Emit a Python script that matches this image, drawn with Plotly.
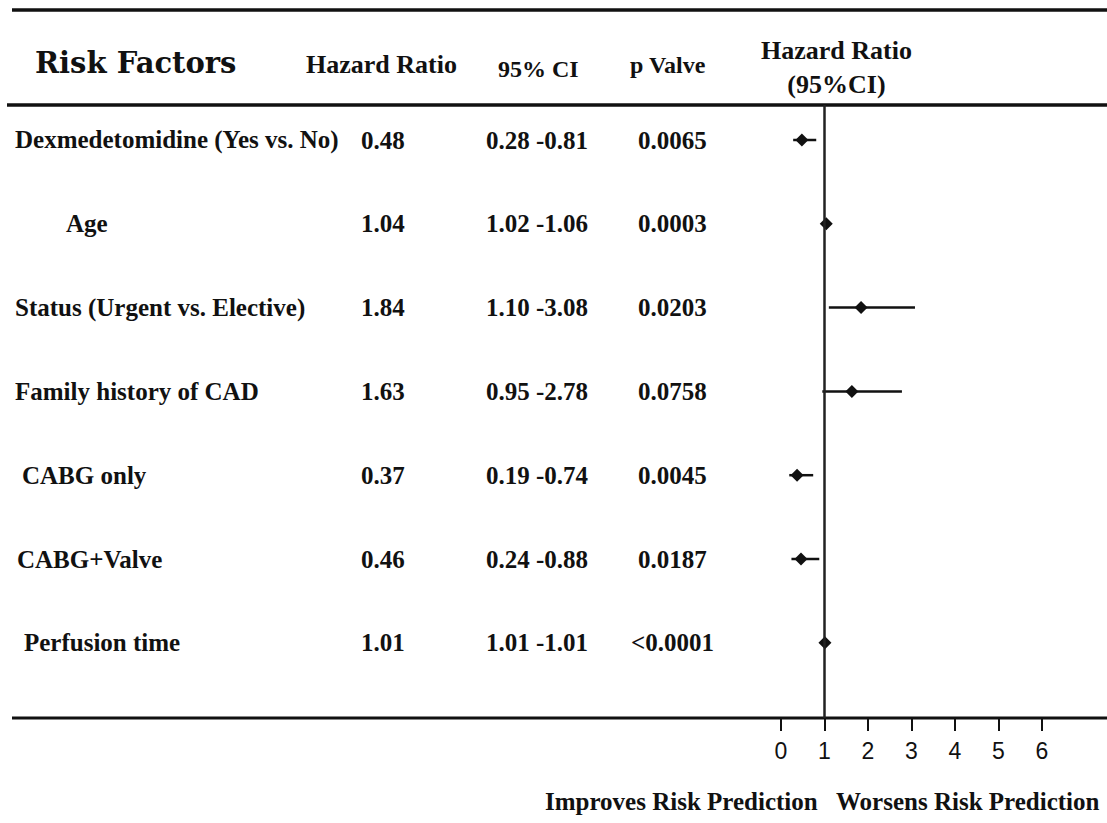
import plotly.graph_objects as go

# ---------------- data ----------------
factors = [
    "Dexmedetomidine (Yes vs. No)",
    "Age",
    "Status (Urgent vs. Elective)",
    "Family history of CAD",
    "CABG only",
    "CABG+Valve",
    "Perfusion time",
]
hazard_ratio = [0.48, 1.04, 1.84, 1.63, 0.37, 0.46, 1.01]
ci_low = [0.28, 1.02, 1.10, 0.95, 0.19, 0.24, 1.01]
ci_high = [0.81, 1.06, 3.08, 2.78, 0.74, 0.88, 1.01]
p_values = ["0.0065", "0.0003", "0.0203", "0.0758", "0.0045", "0.0187", "<0.0001"]
x_ticks = [0, 1, 2, 3, 4, 5, 6]
reference_value = 1
col_headers = ["Hazard Ratio", "95% CI", "p Valve"]
plot_header = "Hazard Ratio<br>(95%CI)"
table_title = "Risk Factors"
footer_left = "Improves Risk Prediction"
footer_right = "Worsens Risk Prediction"

# ---------------- layout constants ----------------
W, H = 1107, 823
ROW0_PX, ROW_STEP = 140.0, 83.8
X0_PX, X_UNIT = 781.0, 43.5
TOP_LINE_PX, HEAD_LINE_PX, BOTTOM_LINE_PX = 10, 105, 718
LABEL_X_PX = [13, 64, 13, 13, 20, 15, 22]
HR_X_PX, CI_X_PX, P_X_PX = 383, 537, 672
SERIF = "Liberation Serif, Times New Roman, serif"
SANS = "Liberation Sans, Arial, sans-serif"

rows = list(range(len(factors)))
y_top = -ROW0_PX / ROW_STEP
y_bot = (H - ROW0_PX) / ROW_STEP
x_left = -X0_PX / X_UNIT
x_right = (W - X0_PX) / X_UNIT


def py(px):
    return (H - px) / H


def pxx(px):
    return px / W


fig = go.Figure()

fig.add_trace(
    go.Scatter(
        x=hazard_ratio,
        y=rows,
        mode="markers",
        marker=dict(symbol="diamond", size=10, color="#111111"),
        error_x=dict(
            type="data",
            symmetric=False,
            array=[h - hr for h, hr in zip(ci_high, hazard_ratio)],
            arrayminus=[hr - l for hr, l in zip(hazard_ratio, ci_low)],
            width=0,
            thickness=2.5,
            color="#111111",
        ),
        hoverinfo="skip",
        showlegend=False,
    )
)

shapes = [
    dict(type="line", xref="paper", yref="paper", x0=pxx(12), x1=1,
         y0=py(TOP_LINE_PX), y1=py(TOP_LINE_PX), line=dict(color="#111111", width=3.5)),
    dict(type="line", xref="paper", yref="paper", x0=pxx(7), x1=1,
         y0=py(HEAD_LINE_PX), y1=py(HEAD_LINE_PX), line=dict(color="#111111", width=3.5)),
    dict(type="line", xref="paper", yref="paper", x0=pxx(12), x1=1,
         y0=py(BOTTOM_LINE_PX), y1=py(BOTTOM_LINE_PX), line=dict(color="#111111", width=3)),
    dict(type="line", xref="x", yref="paper", x0=reference_value, x1=reference_value,
         y0=py(BOTTOM_LINE_PX), y1=py(HEAD_LINE_PX), line=dict(color="#222222", width=2.5)),
]

annotations = []


def txt(text, x, y, size, yref="paper", xanchor="center", family=SERIF):
    annotations.append(
        dict(text=text, x=x, y=y, xref="paper", yref=yref, xanchor=xanchor,
             yanchor="middle", showarrow=False,
             font=dict(family=family, size=size, color="#111111"))
    )


# headers
txt("<b>%s</b>" % table_title, pxx(33), py(63), 29, xanchor="left",
    family="DejaVu Serif, Liberation Serif, serif")
txt("<b>%s</b>" % col_headers[0], pxx(381), py(65), 26)
txt("<b>%s</b>" % col_headers[1], pxx(538), py(69), 24)
txt("<b>%s</b>" % col_headers[2], pxx(668), py(65), 24)
txt("<b>%s</b>" % plot_header, pxx(836), py(67), 26)

# rows
for r in rows:
    txt("<b>%s</b>" % factors[r], pxx(LABEL_X_PX[r]), r, 25, yref="y", xanchor="left")
    txt("<b>%.2f</b>" % hazard_ratio[r], pxx(HR_X_PX), r, 25, yref="y")
    txt("<b>%.2f -%.2f</b>" % (ci_low[r], ci_high[r]), pxx(CI_X_PX), r, 25, yref="y")
    txt("<b>%s</b>" % p_values[r].replace("<", "&lt;"), pxx(P_X_PX), r, 25, yref="y")

# footer
txt("<b>%s</b>" % footer_left, pxx(681), py(801), 25)
txt("<b>%s</b>" % footer_right, pxx(968), py(801), 25)

fig.update_layout(
    width=W,
    height=H,
    margin=dict(l=0, r=0, t=0, b=0),
    paper_bgcolor="white",
    plot_bgcolor="white",
    showlegend=False,
    shapes=shapes,
    annotations=annotations,
    xaxis=dict(
        range=[x_left, x_right],
        domain=[0, 1],
        anchor="free",
        position=py(BOTTOM_LINE_PX),
        tickmode="array",
        tickvals=x_ticks,
        ticktext=[str(t) for t in x_ticks],
        ticks="outside",
        ticklen=12,
        tickwidth=2,
        tickcolor="#111111",
        tickfont=dict(family=SANS, size=23, color="#111111"),
        showgrid=False,
        zeroline=False,
        showline=False,
        fixedrange=True,
    ),
    yaxis=dict(
        range=[y_bot, y_top],
        domain=[0, 1],
        showticklabels=False,
        showgrid=False,
        zeroline=False,
        showline=False,
        ticks="",
        fixedrange=True,
    ),
)

fig.write_html(
    "out.html",
    config={"displayModeBar": False},
    post_script="document.body.style.margin='0';document.body.style.overflow='hidden';",
)
